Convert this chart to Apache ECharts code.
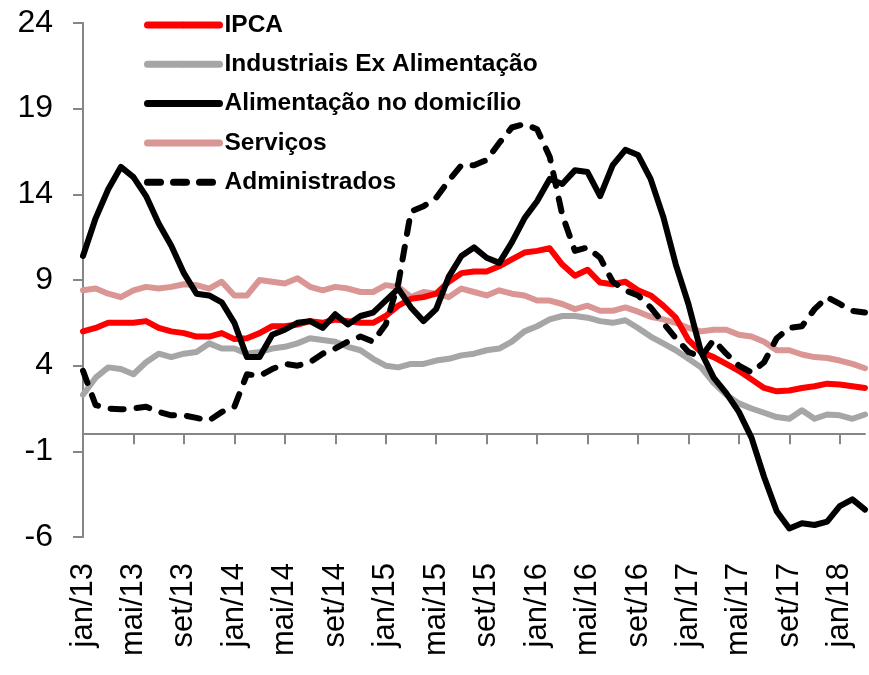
<!DOCTYPE html>
<html>
<head>
<meta charset="utf-8">
<script src="https://cdn.jsdelivr.net/npm/echarts@6/dist/echarts.min.js"></script>
<style>
  html, body { margin: 0; padding: 0; background: #fff; }
  #main { width: 869px; height: 675px; }
</style>
</head>
<body>
<div id="main"></div>
<script>
// months jan/13 .. mar/18
var meses = ['jan','fev','mar','abr','mai','jun','jul','ago','set','out','nov','dez'];
var categorias = [];
for (var a = 13; a <= 18; a++) {
  for (var k = 0; k < 12; k++) {
    if (a == 18 && k > 2) break;
    categorias.push(meses[k] + '/' + a);
  }
}

var ipca = [6.0, 6.2, 6.5, 6.5, 6.5, 6.6, 6.2, 6.0, 5.9, 5.7, 5.7, 5.9,
  5.55, 5.6, 5.9, 6.3, 6.3, 6.4, 6.6, 6.5, 6.7, 6.6, 6.5, 6.5,
  6.9, 7.5, 7.9, 8.0, 8.2, 8.9, 9.4, 9.5, 9.5, 9.8, 10.2, 10.6,
  10.7, 10.85, 9.9, 9.25, 9.6, 8.85, 8.75, 8.9, 8.4, 8.1, 7.5, 6.8,
  5.5, 4.8, 4.5, 4.1, 3.7, 3.2, 2.7, 2.5, 2.55, 2.7, 2.8, 2.95,
  2.9, 2.8, 2.7];

var industriais = [2.3, 3.3, 3.9, 3.8, 3.5, 4.2, 4.7, 4.5, 4.7, 4.8, 5.3, 5.0,
  5.0, 4.7, 4.8, 5.0, 5.1, 5.3, 5.6, 5.5, 5.4, 5.1, 4.9, 4.4,
  4.0, 3.9, 4.1, 4.1, 4.3, 4.4, 4.6, 4.7, 4.9, 5.0, 5.4, 6.0,
  6.3, 6.7, 6.9, 6.9, 6.8, 6.6, 6.5, 6.65, 6.2, 5.7, 5.3, 4.9,
  4.4, 3.9, 3.0, 2.3, 1.8, 1.5, 1.25, 1.0, 0.9, 1.4, 0.9, 1.15,
  1.1, 0.9, 1.15];

var alimentacao = [10.4, 12.6, 14.3, 15.6, 15.0, 13.9, 12.3, 11.0, 9.4, 8.2, 8.1, 7.7,
  6.5, 4.5, 4.5, 5.8, 6.1, 6.5, 6.6, 6.2, 7.0, 6.4, 6.9, 7.1,
  7.8, 8.5, 7.4, 6.6, 7.3, 9.2, 10.4, 10.9, 10.3, 10.0, 11.2, 12.6,
  13.6, 14.9, 14.6, 15.4, 15.3, 13.9, 15.7, 16.6, 16.3, 14.9, 12.7, 9.9,
  7.6, 4.8, 3.3, 2.4, 1.3, -0.2, -2.5, -4.5, -5.5, -5.2, -5.3, -5.1,
  -4.2, -3.8, -4.4];

var servicos = [8.4, 8.5, 8.2, 8.0, 8.4, 8.6, 8.5, 8.6, 8.75, 8.7, 8.5, 8.9,
  8.1, 8.1, 9.0, 8.9, 8.8, 9.1, 8.6, 8.4, 8.6, 8.5, 8.3, 8.3,
  8.7, 8.6, 8.0, 8.3, 8.2, 8.0, 8.5, 8.3, 8.1, 8.4, 8.2, 8.1,
  7.8, 7.8, 7.6, 7.3, 7.5, 7.2, 7.2, 7.4, 7.15, 6.85, 6.7, 6.5,
  6.2, 6.0, 6.1, 6.1, 5.8, 5.7, 5.4, 4.9, 4.9, 4.65, 4.5, 4.45,
  4.3, 4.1, 3.85];

var administrados = [3.7, 1.7, 1.5, 1.45, 1.5, 1.6, 1.3, 1.1, 1.1, 0.95, 0.8, 1.3,
  1.6, 3.5, 3.4, 3.8, 4.1, 4.0, 4.2, 4.7, 5.0, 5.4, 5.7, 5.4,
  6.4, 8.8, 13.0, 13.3, 13.8, 14.8, 15.7, 15.7, 16.0, 17.0, 17.9, 18.1,
  17.8, 16.2, 12.8, 10.7, 10.9, 10.3, 8.9, 8.4, 8.1, 7.4, 6.5, 5.6,
  4.8, 4.5, 5.5, 4.7, 4.0, 3.6, 4.2, 5.6, 6.2, 6.3, 7.3, 8.0,
  7.6, 7.2, 7.1];

var fonte = "'Liberation Sans', Arial, sans-serif";
var corEixo = '#868686';

var chart = echarts.init(document.getElementById('main'));

function serie(nome, dados, cor, tipo, z) {
  return {
    name: nome,
    type: 'line',
    data: dados,
    symbol: 'none',
    xAxisIndex: 0,
    yAxisIndex: 0,
    z: z,
    lineStyle: { color: cor, width: 6, type: tipo, cap: 'round', join: 'round' },
    itemStyle: { color: cor }
  };
}

var caixa = { left: 83, right: 4, top: 23, bottom: 138, containLabel: false };

var option = {
  animation: false,
  backgroundColor: '#fff',
  // grid 0: the chart itself, grid 1: same box, only for the month labels at the bottom
  grid: [caixa, caixa],
  legend: {
    orient: 'vertical',
    left: 144,
    top: 10,
    itemWidth: 72,
    itemHeight: 8,
    itemGap: 9.3,
    padding: 0,
    data: ['IPCA', 'Industriais Ex Alimentação', 'Alimentação no domicílio', 'Serviços', 'Administrados'],
    lineStyle: { width: 7, cap: 'round' },
    textStyle: {
      fontFamily: fonte,
      fontWeight: 'bold',
      fontSize: 24.5,
      lineHeight: 30,
      color: '#000'
    }
  },
  xAxis: [
    {
      // zero line with the small ticks
      gridIndex: 0,
      type: 'category',
      data: categorias,
      boundaryGap: false,
      axisLine: { show: true, onZero: true, lineStyle: { color: corEixo, width: 2 } },
      axisTick: { show: true, interval: 3, length: 10, lineStyle: { color: corEixo, width: 2 } },
      axisLabel: { show: false },
      splitLine: { show: false }
    },
    {
      // labels at the bottom
      gridIndex: 1,
      type: 'category',
      data: categorias,
      boundaryGap: false,
      position: 'bottom',
      axisLine: { show: false, onZero: false },
      axisTick: { show: false },
      axisLabel: {
        interval: 3,
        rotate: 90,
        margin: 26,
        fontFamily: fonte,
        fontSize: 31,
        color: '#000'
      },
      splitLine: { show: false }
    }
  ],
  yAxis: [
    {
      gridIndex: 0,
      type: 'value',
      min: -6,
      max: 24,
      interval: 5,
      axisLine: { show: true, onZero: false, lineStyle: { color: corEixo, width: 2 } },
      axisTick: { show: true, length: 10, lineStyle: { color: corEixo, width: 2 } },
      axisLabel: {
        margin: 30,
        fontFamily: fonte,
        fontSize: 32,
        color: '#000'
      },
      splitLine: { show: false }
    },
    {
      gridIndex: 1,
      type: 'value',
      min: -6,
      max: 24,
      show: false
    }
  ],
  series: [
    serie('Serviços', servicos, '#D99694', 'solid', 2),
    serie('Industriais Ex Alimentação', industriais, '#A6A6A6', 'solid', 3),
    serie('IPCA', ipca, '#FF0000', 'solid', 4),
    serie('Alimentação no domicílio', alimentacao, '#000000', 'solid', 5),
    serie('Administrados', administrados, '#000000', [13, 13], 6)
  ]
};

chart.setOption(option);
</script>
</body>
</html>
